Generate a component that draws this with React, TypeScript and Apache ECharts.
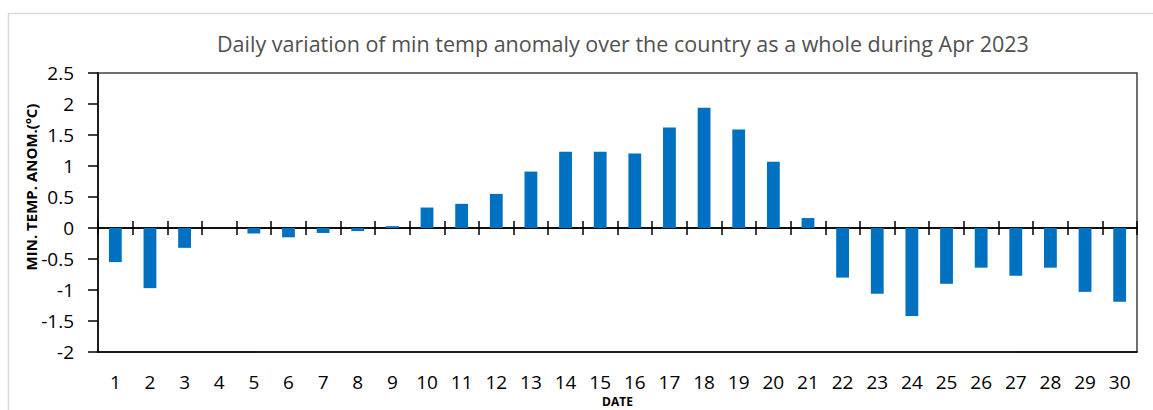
import React, { useEffect, useRef } from "react";
import * as echarts from "echarts";

const TITLE = "Daily variation of min temp anomaly over the country as a whole during Apr 2023";
const Y_NAME = "MIN. TEMP. ANOM.(ºC)";
const X_NAME = "DATE";
const dates = [
  "1", "2", "3", "4", "5", "6", "7", "8", "9", "10",
  "11", "12", "13", "14", "15", "16", "17", "18", "19", "20",
  "21", "22", "23", "24", "25", "26", "27", "28", "29", "30",
];
const anomaly = [
  -0.55, -0.97, -0.32, 0, -0.09, -0.15, -0.08, -0.05, 0.03, 0.33,
  0.39, 0.55, 0.91, 1.23, 1.23, 1.2, 1.62, 1.94, 1.59, 1.07,
  0.16, -0.8, -1.06, -1.42, -0.9, -0.64, -0.77, -0.64, -1.03, -1.19,
];
const Y_MIN = -2;
const Y_MAX = 2.5;
const Y_STEP = 0.5;

const FONT = "'Open Sans', 'Noto Sans', sans-serif";

export default function App() {
  const ref = useRef<HTMLDivElement>(null);
  useEffect(() => {
    if (!ref.current) return;
    const chart = echarts.init(ref.current, null, { renderer: "svg" });
    const commonCat = {
      type: "category" as const,
      data: dates,
      boundaryGap: true,
    };
    const tickStyle = { color: "#000000", width: 1.5 };
    chart.setOption({
      animation: false,
      backgroundColor: "#ffffff",
      textStyle: { fontFamily: FONT },
      title: {
        text: TITLE,
        left: 217,
        top: 32,
        padding: 0,
        textStyle: { fontFamily: FONT, fontSize: 21.5, fontWeight: "normal", color: "#505050" },
      },
      graphic: [
        {
          type: "rect",
          silent: true,
          shape: { x: 8.5, y: 13.5, width: 1170, height: 430 },
          style: { fill: "none", stroke: "#d9d9d9", lineWidth: 1.5 },
        },
        {
          type: "text",
          x: 31,
          y: 187,
          rotation: Math.PI / 2,
          style: {
            text: Y_NAME,
            align: "center",
            verticalAlign: "middle",
            fontFamily: FONT,
            fontSize: 15,
            fontWeight: "bold",
            fill: "#000000",
          },
        },
      ],
      grid: {
        left: 98,
        top: 73,
        right: 16,
        bottom: 58,
        show: true,
        borderColor: "#404040",
        borderWidth: 1.5,
        outerBoundsMode: "none",
        containLabel: false,
      },
      xAxis: [
        {
          ...commonCat,
          position: "bottom",
          axisLine: { show: true, onZero: true, onZeroAxisIndex: 0, lineStyle: tickStyle },
          axisTick: { show: true, interval: 0, length: 7, lineStyle: tickStyle },
          axisLabel: { show: false },
          splitLine: { show: false },
        },
        {
          ...commonCat,
          position: "top",
          axisLine: { show: true, onZero: true, onZeroAxisIndex: 1, lineStyle: tickStyle },
          axisTick: { show: true, interval: 0, length: 7, lineStyle: tickStyle },
          axisLabel: { show: false },
          splitLine: { show: false },
        },
        {
          ...commonCat,
          position: "bottom",
          name: X_NAME,
          nameLocation: "middle",
          nameGap: 38,
          nameTextStyle: {
            fontFamily: FONT,
            fontSize: 12,
            lineHeight: 12,
            fontWeight: "bold",
            color: "#000000",
            verticalAlign: "top",
          },
          axisLine: { show: true, onZero: false, lineStyle: tickStyle },
          axisTick: { show: false },
          axisLabel: { show: true, interval: 0, margin: 20, fontFamily: FONT, fontSize: 19, color: "#000000" },
          splitLine: { show: false },
        },
      ],
      yAxis: [
        {
          type: "value",
          min: Y_MIN,
          max: Y_MAX,
          interval: Y_STEP,
          axisLine: { show: true, onZero: false, lineStyle: tickStyle },
          axisTick: { show: true, length: 10, lineStyle: tickStyle },
          axisLabel: { margin: 24, fontFamily: FONT, fontSize: 19, color: "#000000" },
          splitLine: { show: false },
        },
        {
          type: "value",
          position: "right",
          min: Y_MIN,
          max: Y_MAX,
          interval: Y_STEP,
          axisLine: { show: false, onZero: false },
          axisTick: { show: false },
          axisLabel: { show: false },
          splitLine: { show: false },
        },
      ],
      series: [
        {
          type: "bar",
          xAxisIndex: 0,
          yAxisIndex: 0,
          data: anomaly,
          barWidth: "37%",
          itemStyle: { color: "#0070C0" },
        },
      ],
    });
    return () => chart.dispose();
  }, []);
  return (
    <div
      ref={ref}
      style={{ position: "absolute", left: 0, top: 0, width: 1153, height: 410 }}
    />
  );
}
